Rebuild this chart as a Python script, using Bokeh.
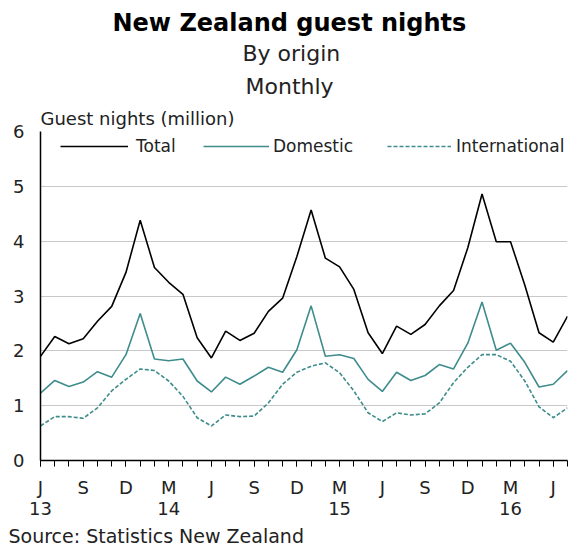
from bokeh.plotting import figure
from bokeh.models import Range1d, FixedTicker, LinearAxis, Title, Legend, LegendItem
from bokeh.embed import file_html
from bokeh.resources import INLINE

# Months: June 2013 .. July 2016 (38 months)
month_index = list(range(38))
tick_idx = [0, 3, 6, 9, 12, 15, 18, 21, 24, 27, 30, 33, 36]
tick_labels = ["J", "S", "D", "M", "J", "S", "D", "M", "J", "S", "D", "M", "J"]
year_idx = [0, 9, 21, 33]
year_labels = ["13", "14", "15", "16"]

total = [1.90, 2.26, 2.13, 2.22, 2.54, 2.81, 3.43, 4.38, 3.52, 3.25, 3.03, 2.24,
         1.87, 2.36, 2.19, 2.32, 2.72, 2.96, 3.72, 4.57, 3.69, 3.53, 3.12, 2.33,
         1.95, 2.45, 2.30, 2.48, 2.82, 3.10, 3.88, 4.86, 3.99, 3.99, 3.20, 2.33,
         2.16, 2.63]
domestic = [1.23, 1.46, 1.35, 1.43, 1.62, 1.52, 1.93, 2.68, 1.85, 1.82, 1.85, 1.45,
            1.25, 1.52, 1.39, 1.54, 1.70, 1.61, 2.02, 2.82, 1.90, 1.93, 1.86, 1.48,
            1.26, 1.61, 1.46, 1.55, 1.75, 1.67, 2.14, 2.89, 2.01, 2.14, 1.79, 1.34,
            1.39, 1.64]
international = [0.63, 0.80, 0.80, 0.77, 0.96, 1.27, 1.48, 1.67, 1.64, 1.45, 1.17, 0.78,
                 0.63, 0.83, 0.80, 0.81, 1.05, 1.39, 1.61, 1.72, 1.78, 1.60, 1.27, 0.87,
                 0.71, 0.87, 0.83, 0.85, 1.05, 1.42, 1.70, 1.93, 1.93, 1.81, 1.45, 0.98,
                 0.78, 0.96]

FONT = "DejaVu Sans"
TEAL = "#3f8c8c"
TXT = "#222222"

p = figure(width=582, height=552, x_range=Range1d(0, 37), y_range=Range1d(0, 6),
           output_backend="svg", toolbar_location=None, x_axis_type=None,
           min_border_left=40, min_border_right=15, min_border_top=131, min_border_bottom=91)
p.outline_line_color = None
p.background_fill_color = "white"
p.border_fill_color = "white"

# y axis
p.yaxis.ticker = FixedTicker(ticks=[0, 1, 2, 3, 4, 5, 6])
p.yaxis.axis_line_color = "black"
p.yaxis.axis_line_width = 1.5
p.yaxis.major_tick_out = 0
p.yaxis.major_tick_in = 0
p.yaxis.minor_tick_line_color = None
p.yaxis.major_label_standoff = 16
p.yaxis.major_label_text_font = FONT
p.yaxis.major_label_text_font_size = "18px"
p.yaxis.major_label_text_color = TXT
p.ygrid.ticker = FixedTicker(ticks=[1, 2, 3, 4, 5, 6])
p.ygrid.grid_line_color = "#c8c8c8"
p.ygrid.grid_line_width = 1

# month axis
xa = LinearAxis(ticker=FixedTicker(ticks=tick_idx, minor_ticks=month_index),
                major_label_overrides={i: l for i, l in zip(tick_idx, tick_labels)})
xa.axis_line_color = "black"
xa.axis_line_width = 1.5
xa.major_tick_out = 6
xa.major_tick_in = 0
xa.minor_tick_out = 6
xa.minor_tick_in = 0
xa.major_tick_line_color = "black"
xa.minor_tick_line_color = "black"
xa.major_label_standoff = 10
xa.major_label_text_font = FONT
xa.major_label_text_font_size = "18px"
xa.major_label_text_color = TXT
p.add_layout(xa, "below")

# year axis
ya = LinearAxis(ticker=FixedTicker(ticks=year_idx),
                major_label_overrides={i: l for i, l in zip(year_idx, year_labels)})
ya.axis_line_color = None
ya.major_tick_line_color = None
ya.minor_tick_line_color = None
ya.major_tick_out = 0
ya.major_label_standoff = 1
ya.major_label_text_font = FONT
ya.major_label_text_font_size = "18px"
ya.major_label_text_color = TXT
p.add_layout(ya, "below")

r_tot = p.line(month_index, total, line_color="black", line_width=1.6)
r_dom = p.line(month_index, domestic, line_color=TEAL, line_width=1.6)
r_int = p.line(month_index, international, line_color=TEAL, line_width=1.6, line_dash="4 2")

def make_legend(label, r, loc, gw, standoff):
    lg = Legend(items=[LegendItem(label=label, renderers=[r])], location=loc,
                orientation="horizontal", glyph_width=gw, glyph_height=20,
                label_standoff=standoff, padding=0, margin=0, spacing=0,
                border_line_color=None, background_fill_alpha=0,
                label_text_font=FONT, label_text_font_size="17px",
                label_text_color=TXT, label_height=20)
    p.add_layout(lg)

make_legend("Total", r_tot, (20, 304), 68, 8)
make_legend("Domestic", r_dom, (163, 304), 66, 4)
make_legend("International", r_int, (347, 304), 64, 5)

def title(text, size, where="above", bold=False, align="left", offset=0, standoff=0):
    t = Title(text=text, align=align, offset=offset, standoff=standoff,
              text_font=FONT, text_font_size=size,
              text_font_style="bold" if bold else "normal",
              text_color="black" if bold else TXT)
    p.add_layout(t, where)

# above: added closest-to-frame first
title("Guest nights (million)", "18px", offset=0, standoff=6)
title("Monthly", "22px", offset=205, standoff=8)
title("By origin", "22px", offset=202, standoff=3)
title("New Zealand  guest nights", "24px", bold=True, offset=72, standoff=1)
# below
title("Source: Statistics New Zealand", "19px", where="below", offset=-32, standoff=11)

open("out.html", "w").write(file_html(p, INLINE))
